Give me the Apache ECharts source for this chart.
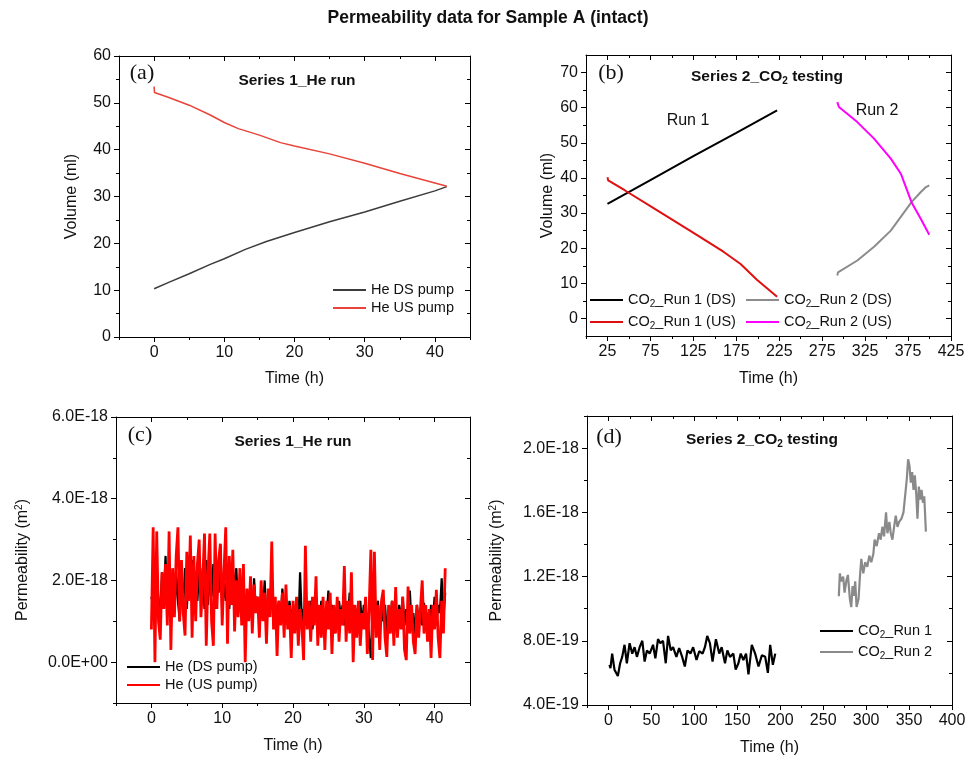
<!DOCTYPE html>
<html><head><meta charset="utf-8">
<script src="https://cdn.jsdelivr.net/npm/echarts@6/dist/echarts.min.js"></script>
<style>html,body{margin:0;padding:0;background:#fff}#c{width:976px;height:758px}</style>
</head><body><div id="c"></div>
<script>
// ---------- Panel (a): Volume vs time, He run ----------
const aTimeDS = [0, 2, 5, 8, 10, 13, 16, 20, 25, 30, 35, 40, 41.7];
const aVolDS  = [10.3, 11.6, 13.5, 15.5, 16.7, 18.7, 20.4, 22.3, 24.6, 26.7, 29.0, 31.2, 32.1];
const aTimeUS = [0, 0.05, 2, 5, 8, 10, 12, 15, 18, 20, 25, 30, 35, 40, 41.7];
const aVolUS  = [53.5, 52.2, 51.2, 49.5, 47.4, 45.8, 44.5, 43.1, 41.5, 40.8, 39.1, 37.1, 34.9, 32.9, 32.2];

// ---------- Panel (b): Volume vs time, CO2 testing ----------
const bTimeR1DS = [25, 75, 125, 175, 222.5];
const bVolR1DS  = [32.6, 39.4, 46.2, 52.8, 59.2];
const bTimeR1US = [25, 25.8, 45, 82, 121, 160, 180, 199, 222.5];
const bVolR1US  = [40.2, 39.3, 36.5, 30.9, 25.0, 19.0, 15.5, 11.0, 6.2];
const bTimeR2DS = [292.6, 293.4, 315.9, 335.4, 354.9, 379.0, 389.9, 395.8, 399.7];
const bVolR2DS  = [12.2, 13.1, 16.5, 20.4, 25.0, 33.1, 36.0, 37.4, 37.9];
const bTimeR2US = [292.6, 294.5, 315.9, 335.4, 354.9, 366.6, 379.0, 389.9, 399.7];
const bVolR2US  = [61.6, 60.2, 55.9, 51.2, 45.5, 41.2, 33.1, 28.3, 23.8];

// ---------- Panel (c): Permeability (1E-18 m2) vs time, He run ----------
const cTime = [
  0,0.25,0.5,0.75, 1,1.25,1.5,1.75, 2,2.25,2.5,2.75, 3,3.25,3.5,3.75, 4,4.25,4.5,4.75,
  5,5.25,5.5,5.75, 6,6.25,6.5,6.75, 7,7.25,7.5,7.75, 8,8.25,8.5,8.75, 9,9.25,9.5,9.75,
  10,10.25,10.5,10.75, 11,11.25,11.5,11.75, 12,12.25,12.5,12.75, 13,13.25,13.5,13.75, 14,14.25,14.5,14.75,
  15,15.25,15.5,15.75, 16,16.25,16.5,16.75, 17,17.25,17.5,17.75, 18,18.25,18.5,18.75, 19,19.25,19.5,19.75,
  20,20.25,20.5,20.75, 21,21.25,21.5,21.75, 22,22.25,22.5,22.75, 23,23.25,23.5,23.75, 24,24.25,24.5,24.75,
  25,25.25,25.5,25.75, 26,26.25,26.5,26.75, 27,27.25,27.5,27.75, 28,28.25,28.5,28.75, 29,29.25,29.5,29.75,
  30,30.25,30.5,30.75, 31,31.25,31.5,31.75, 32,32.25,32.5,32.75, 33,33.25,33.5,33.75, 34,34.25,34.5,34.75,
  35,35.25,35.5,35.75, 36,36.25,36.5,36.75, 37,37.25,37.5,37.75, 38,38.25,38.5,38.75, 39,39.25,39.5,39.75,
  40,40.25,40.5,40.75, 41,41.25,41.5
];
const cPermDS = [
  1.6,1.4,0.9,2.3, 1.5,1.2,2.2,1.6, 2.6,1.3,2.1,1.4, 1.9,1.2,2.2,1.5, 1.0,2.0,1.4,2.3,
  1.3,2.1,1.6,2.5, 1.2,2.2,1.5,2.4, 1.6,2.3,1.3,2.5, 1.4,2.2,1.6,2.4, 1.3,2.3,1.7,2.85,
  1.2,2.0,1.5,2.2, 1.3,1.9,1.4,2.0, 2.3,1.2,1.8,1.3, 1.7,1.1,1.6,1.2, 1.5,1.0,2.05,1.3,
  1.6,1.1,1.7,1.2, 2.0,1.0,1.5,1.3, 1.6,0.9,1.4,1.1, 1.5,1.0,1.8,1.2, 1.4,0.9,1.5,1.1,
  1.3,1.0,1.4,0.8, 2.2,1.0,1.3,0.9, 1.4,1.1,1.5,0.8, 1.3,1.0,1.4,0.9, 1.5,0.8,1.3,1.1,
  1.75,0.9,1.4,1.0, 1.3,0.8,1.5,1.1, 1.4,0.9,1.3,1.0, 1.7,0.8,1.4,1.1, 1.3,0.7,1.5,0.9,
  1.4,1.0,1.2,0.6, 0.1,1.3,0.9,1.4, 1.5,0.8,1.3,1.0, 1.4,0.7,1.2,1.1, 1.5,0.9,1.3,0.8,
  1.4,1.0,1.6,0.9, 1.3,1.1,1.75,0.9, 1.2,0.7,1.4,1.0, 1.3,0.9,1.45,1.1, 1.2,0.8,1.4,1.0,
  1.6,0.9,1.4,1.2, 2.05,1.1,1.7
];
const cPermUS = [
  0.8,3.3,0.0,3.2, 1.0,0.55,2.2,1.3, 2.4,0.9,3.2,0.3, 2.3,1.1,2.6,3.3, 1.0,2.5,1.2,0.65,
  2.7,1.5,3.1,0.6, 2.6,1.0,2.4,3.0, 1.1,2.0,3.15,0.4, 2.2,3.15,1.0,0.4, 3.15,1.3,2.5,2.9,
  0.9,2.2,3.3,0.45, 2.6,1.4,2.75,0.75, 2.0,1.1,2.3,0.9, 2.4,0.0,1.8,1.0, 2.1,0.7,1.9,1.2,
  1.6,0.6,2.0,1.0, 1.7,0.45,1.8,1.1, 2.95,0.8,1.6,0.15, 1.5,0.9,1.7,0.6, 1.9,0.8,1.4,0.1,
  1.5,0.7,1.6,0.4, 1.3,0.9,0.05,2.85, 0.8,1.5,0.5,1.6, 0.9,2.1,0.4,1.4, 0.6,1.6,0.3,1.5,
  0.8,1.7,0.2,1.4, 0.7,1.6,0.5,1.3, 0.9,2.35,0.5,1.5, 0.7,2.2,0.0,1.4, 0.6,1.5,0.4,1.2,
  0.8,1.6,0.2,1.3, 2.75,0.05,2.7,0.6, 1.4,0.3,1.5,1.77, 0.6,0.13,1.4,0.7, 1.5,0.4,1.84,0.6,
  1.3,0.8,1.6,0.3, 0.05,1.85,0.7,1.4, 0.5,0.2,1.4,0.6, 1.3,2.0,0.7,1.4, 0.5,1.3,0.1,1.4,
  0.8,1.77,0.6,0.1, 1.5,0.7,2.3
];

// ---------- Panel (d): Permeability (1E-18 m2) vs time, CO2 testing ----------
const dTimeR1 = [1.2,2.3,4.3,7.0,10.9,13.6,16.0,18.7,21.4,24.6,27.7,30.4,33.1,36.3,39.4,42.1,44.8,48.0,51.9,54.6,
  57.7,60.4,63.5,66.7,69.4,72.5,75.2,79.1,82.3,85.8,88.9,92.0,95.5,98.6,102.5,105.7,109.6,112.3,115.0,118.1,
  121.2,125.1,129.0,131.8,135.7,138.4,141.5,145.4,148.1,151.3,154.0,157.1,160.2,163.0,166.9,170.8,174.7,178.6,182.5,185.6,
  188.3,191.4,194.2];
const dPermR1 = [0.65,0.63,0.72,0.62,0.58,0.66,0.70,0.775,0.66,0.785,0.72,0.76,0.70,0.76,0.80,0.67,0.74,0.72,0.775,0.69,
  0.81,0.785,0.80,0.66,0.83,0.74,0.76,0.70,0.755,0.70,0.64,0.74,0.72,0.76,0.68,0.735,0.72,0.76,0.83,0.785,
  0.67,0.81,0.72,0.76,0.66,0.74,0.70,0.72,0.62,0.66,0.72,0.68,0.72,0.59,0.775,0.72,0.64,0.71,0.70,0.60,
  0.775,0.65,0.72];
const dTimeR2 = [268.2,269.4,271.0,273.3,274.9,277.2,278.8,281.1,282.7,284.2,285.8,287.3,288.9,291.2,292.8,294.4,
  296.7,299.0,301.4,303.7,306.0,308.4,309.9,312.3,315.0,317.0,318.9,320.9,323.2,324.8,327.1,328.7,330.6,332.6,334.5,336.5,
  338.4,341.1,343.5,345.0,347.4,348.9,350.5,352.0,353.6,355.2,356.7,358.3,359.8,361.4,363.0,364.6,366.1,367.7,369.6];
const dPermR2 = [1.077,1.22,1.17,1.20,1.10,1.18,1.21,1.06,1.01,1.14,1.08,1.17,1.01,1.06,1.20,1.31,
  1.22,1.29,1.26,1.33,1.29,1.34,1.43,1.39,1.47,1.43,1.51,1.45,1.60,1.47,1.54,1.47,1.43,1.51,1.58,1.51,
  1.54,1.56,1.60,1.68,1.81,1.93,1.89,1.785,1.85,1.74,1.83,1.72,1.56,1.76,1.68,1.74,1.66,1.70,1.48];

// ---------- Tick values ----------
const aXTicks = [0, 10, 20, 30, 40],           aXMinor = [-5, 5, 15, 25, 35, 45];
const aYTicks = [0, 10, 20, 30, 40, 50, 60],   aYMinor = [5, 15, 25, 35, 45, 55];
const bXTicks = [25, 75, 125, 175, 225, 275, 325, 375, 425], bXMinor = [0, 50, 100, 150, 200, 250, 300, 350, 400];
const bYTicks = [0, 10, 20, 30, 40, 50, 60, 70], bYMinor = [5, 15, 25, 35, 45, 55, 65];
const cXTicks = [0, 10, 20, 30, 40],           cXMinor = [-5, 5, 15, 25, 35, 45];
const cYTicks = [0, 2, 4, 6],                  cYMinor = [-1, 1, 3, 5];
const dXTicks = [0, 50, 100, 150, 200, 250, 300, 350, 400], dXMinor = [-25, 25, 75, 125, 175, 225, 275, 325, 375];
const dYTicks = [0.4, 0.8, 1.2, 1.6, 2.0],     dYMinor = [0.6, 1.0, 1.4, 1.8, 2.2];

const FONT = '"Liberation Sans", Arial, Helvetica, sans-serif';
const TXT = '#111';
const zip = (t, v) => t.slice(0, Math.min(t.length, v.length)).map((x, i) => [x, v[i]]);

const nameStyle = {
  fontSize: 16, fontFamily: FONT, color: TXT, lineHeight: 18,
  rich: {
    n: { fontSize: 16, fontFamily: FONT, color: TXT, lineHeight: 18 },
    sup: { fontSize: 10, fontFamily: FONT, color: TXT, lineHeight: 8, verticalAlign: 'top' }
  }
};

function axes(dim, g, min, max, major, minor, fmt, name, nameGap) {
  const isX = dim === 'x';
  const pos = isX ? ['bottom', 'top'] : ['left', 'right'];
  const base = () => ({ type: 'value', gridIndex: g, min: min, max: max, splitLine: { show: false } });
  const line = { show: true, onZero: false, lineStyle: { color: '#000', width: 1 } };
  const noLine = { show: false, onZero: false };
  const tick = (vals, inside, len) => ({ show: true, inside: inside, length: len, customValues: vals, lineStyle: { color: '#000', width: 1 } });
  const main = Object.assign(base(), {
    position: pos[0], axisLine: line, axisTick: tick(major, false, 5),
    axisLabel: { show: true, customValues: major, formatter: fmt, margin: 8, color: TXT, fontSize: 16, fontFamily: FONT },
    name: name, nameLocation: 'middle', nameGap: nameGap, nameTextStyle: nameStyle
  });
  const mirror = Object.assign(base(), { position: pos[1], axisLine: line, axisTick: tick(major, true, 5), axisLabel: { show: false } });
  const mainMinor = Object.assign(base(), { position: pos[0], axisLine: noLine, axisTick: tick(minor, false, 3), axisLabel: { show: false } });
  const mirrorMinor = Object.assign(base(), { position: pos[1], axisLine: noLine, axisTick: tick(minor, true, 3), axisLabel: { show: false } });
  return [main, mirror, mainMinor, mirrorMinor];
}

const fmtC = v => (Math.abs(v) < 1e-9 ? '0.0E+00' : v.toFixed(1) + 'E-18');
const fmtD = v => (v < 0.999 ? (v * 10).toFixed(1) + 'E-19' : v.toFixed(1) + 'E-18');
const permName = '{n|Permeability (m}{sup|2}{n|)}';

const xAxis = [
  ...axes('x', 0, -5, 45, aXTicks, aXMinor, undefined, 'Time (h)', 33),
  ...axes('x', 1, 0, 425, bXTicks, bXMinor, undefined, 'Time (h)', 34),
  ...axes('x', 2, -5, 45, cXTicks, cXMinor, undefined, 'Time (h)', 34),
  ...axes('x', 3, -25, 400, dXTicks, dXMinor, undefined, 'Time (h)', 34)
];
const yAxis = [
  ...axes('y', 0, 0, 60, aYTicks, aYMinor, undefined, 'Volume (ml)', 38),
  ...axes('y', 1, -5, 75, bYTicks, bYMinor, undefined, 'Volume (ml)', 29),
  ...axes('y', 2, -1, 6, cYTicks, cYMinor, fmtC, permName, 84),
  ...axes('y', 3, 0.4, 2.2, dYTicks, dYMinor, fmtD, permName, 81)
];

function line(name, g, data, color, width) {
  return {
    type: 'line', name: name, xAxisIndex: g * 4, yAxisIndex: g * 4, data: data,
    showSymbol: false, symbol: 'none', sampling: null, smooth: false,
    lineStyle: { color: color, width: width }, itemStyle: { color: color },
    emphasis: { disabled: true }, z: 3
  };
}

const co2Fmt = name => '{n|CO}{s|2}{n|' + name.replace('CO2', '') + '}';
const legRich = (fs, lh) => ({
  n: { fontSize: fs, fontFamily: FONT, color: TXT, lineHeight: lh },
  s: { fontSize: 10, fontFamily: FONT, color: TXT, lineHeight: 7, verticalAlign: 'bottom' }
});
function legend(names, left, top, lh, gap, fmt, fs) {
  const l = {
    orient: 'vertical', left: left, top: top, itemWidth: 33, itemHeight: 2, itemGap: gap,
    icon: 'rect', data: names, selectedMode: false, padding: 0,
    textStyle: { fontSize: fs, fontFamily: FONT, color: TXT, lineHeight: lh }
  };
  if (fmt) { l.formatter = fmt; l.textStyle.rich = legRich(fs, lh); }
  return l;
}

const subTitleRich = {
  b: { font: 'bold 15.5px ' + FONT, fill: TXT, lineHeight: 18 },
  s: { font: 'bold 10px ' + FONT, fill: TXT, lineHeight: 7, verticalAlign: 'bottom' }
};
function gtext(x, y, text, font, rich) {
  const st = { text: text, font: font, fill: TXT, textAlign: 'center', textVerticalAlign: 'middle', align: 'center', verticalAlign: 'middle' };
  if (rich) st.rich = rich;
  return { type: 'text', x: x, y: y, style: st, z: 10 };
}
const SERIF = '22px "Liberation Serif", "Times New Roman", serif';

const option = {
  animation: false,
  backgroundColor: '#fff',
  grid: [
    { left: 119, top: 56, width: 351, height: 281 },
    { left: 586, top: 55, width: 365, height: 281 },
    { left: 116, top: 417, width: 354, height: 286 },
    { left: 587, top: 416, width: 365, height: 289 }
  ],
  xAxis: xAxis,
  yAxis: yAxis,
  legend: [
    legend(['He DS pump', 'He US pump'], 333, 281, 18, 0, null, 14.5),
    legend(['CO2_Run 1 (DS)', 'CO2_Run 1 (US)'], 590, 291, 18, 4, co2Fmt, 14.5),
    legend(['CO2_Run 2 (DS)', 'CO2_Run 2 (US)'], 746, 291, 18, 4, co2Fmt, 14.5),
    legend(['He (DS pump)', 'He (US pump)'], 127, 658, 18, 0, null, 14.5),
    legend(['CO2_Run 1', 'CO2_Run 2'], 820, 622, 18, 3, co2Fmt, 14.5)
  ],
  series: [
    line('He DS pump', 0, zip(aTimeDS, aVolDS), '#3c3c3c', 1.5),
    line('He US pump', 0, zip(aTimeUS, aVolUS), '#e8443a', 1.5),
    line('CO2_Run 1 (DS)', 1, zip(bTimeR1DS, bVolR1DS), '#000000', 2),
    line('CO2_Run 1 (US)', 1, zip(bTimeR1US, bVolR1US), '#e01010', 2),
    line('CO2_Run 2 (DS)', 1, zip(bTimeR2DS, bVolR2DS), '#8c8c8c', 2),
    line('CO2_Run 2 (US)', 1, zip(bTimeR2US, bVolR2US), '#ff00ff', 2),
    line('He (DS pump)', 2, zip(cTime, cPermDS), '#000000', 2.2),
    line('He (US pump)', 2, zip(cTime, cPermUS), '#ff0000', 2.8),
    line('CO2_Run 1', 3, zip(dTimeR1, dPermR1), '#000000', 2.2),
    line('CO2_Run 2', 3, zip(dTimeR2, dPermR2), '#8a8a8a', 2.2)
  ],
  graphic: [
    gtext(488, 18, 'Permeability data for Sample A (intact)', 'bold 17.5px ' + FONT),
    gtext(142, 73, '(a)', SERIF),
    gtext(611, 73, '(b)', SERIF),
    gtext(140, 435, '(c)', SERIF),
    gtext(609, 437, '(d)', SERIF),
    gtext(297, 81, 'Series 1_He run', 'bold 15.5px ' + FONT),
    gtext(767, 77, '{b|Series 2_CO}{s|2}{b| testing}', 'bold 15.5px ' + FONT, subTitleRich),
    gtext(293, 442, 'Series 1_He run', 'bold 15.5px ' + FONT),
    gtext(762, 440, '{b|Series 2_CO}{s|2}{b| testing}', 'bold 15.5px ' + FONT, subTitleRich),
    gtext(688, 121, 'Run 1', '16px ' + FONT),
    gtext(877, 111, 'Run 2', '16px ' + FONT)
  ]
};

const chart = echarts.init(document.getElementById('c'), null, { renderer: 'canvas' });
chart.setOption(option);
</script>
</body></html>
